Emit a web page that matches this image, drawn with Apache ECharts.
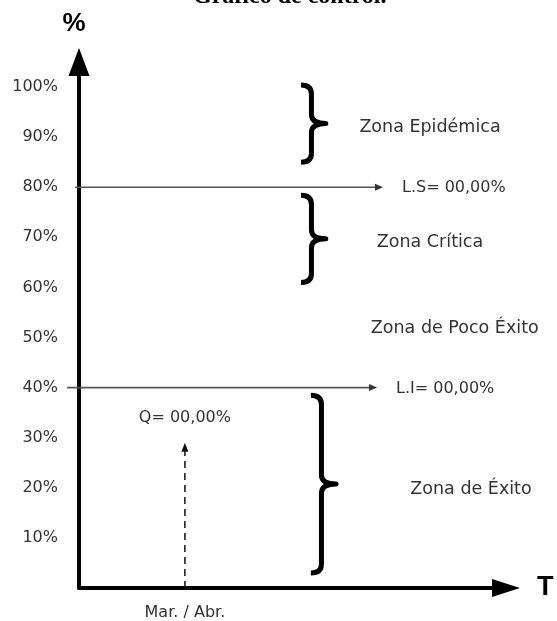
<!DOCTYPE html>
<html><head><meta charset="utf-8">
<script src="https://cdn.jsdelivr.net/npm/echarts@6/dist/echarts.min.js"></script>
<style>html,body{margin:0;padding:0;background:#fff;} #c{width:557px;height:621px;}</style>
</head><body><div id="c"></div>
<script>
// ---------- data ----------
const chartTitle = 'Gráfico de control.';
const yTickValues = [10, 20, 30, 40, 50, 60, 70, 80, 90, 100];
const periods = ['Mar. / Abr.'];
const qValues = [29];
const qLabels = ['Q= 00,00%'];
const limitNames = ['L.S= 00,00%', 'L.I= 00,00%'];
const limitValues = [80, 40];
const zoneNames = ['Zona Epidémica', 'Zona Crítica', 'Zona de Poco Éxito', 'Zona de Éxito'];
const zoneFrom = [85, 61, 44, 3];
const zoneTo = [100.4, 78.4, 60, 38.5];
const zoneHasBrace = [true, true, false, true];

// ---------- layout / style ----------
const periodX = [24.8];
const limitStartX = [-0.9, -2.8];
const limitEndX = [71.2, 69.8];
const braceLeftX = [52, 52, null, 54.3];
const braceTipX = [57.8, 57.8, null, 60.2];
const zoneLabelX = [82.2, 82.2, 88, 91.8];
const zoneLabelDy = [4, 4, 1, 5];
const FONT = 'DejaVu Sans';
const TEXT = '#333333';

const chart = echarts.init(document.getElementById('c'), null, {renderer: 'canvas'});

const option = {
  animation: false,
  backgroundColor: '#ffffff',
  title: {
    text: chartTitle, left: 193, top: -15, padding: 0,
    textStyle: {fontFamily: 'Liberation Serif', fontWeight: 'bold', fontSize: 24, color: '#000'}
  },
  grid: {left: 79, right: 51, top: 62, bottom: 33, containLabel: false, outerBoundsMode: 'none'},
  xAxis: {
    type: 'value', min: 0, max: 100,
    axisLine: {show: true, onZero: false, lineStyle: {color: '#000', width: 4},
      symbol: ['none', 'triangle'], symbolSize: [18, 28]},
    axisTick: {show: false},
    splitLine: {show: false},
    axisLabel: {
      customValues: periodX,
      formatter: function (v) { const i = periodX.indexOf(v); return i >= 0 ? periods[i] : ''; },
      margin: 17, color: TEXT, fontSize: 16, fontFamily: FONT
    },
    name: 'T', nameLocation: 'end', nameGap: 31,
    nameTextStyle: {fontSize: 27, fontWeight: 'bold', color: '#000', fontFamily: 'Liberation Sans', verticalAlign: 'middle', padding: [0, 0, 8, 0]}
  },
  yAxis: {
    type: 'value', min: 0, max: 105, interval: 10,
    axisLine: {show: true, onZero: false, lineStyle: {color: '#000', width: 4},
      symbol: ['none', 'triangle'], symbolSize: [21, 28]},
    axisTick: {show: false},
    splitLine: {show: false},
    axisLabel: {
      formatter: function (v) { return yTickValues.indexOf(v) >= 0 ? v + '%' : ''; },
      margin: 21, color: TEXT, fontSize: 16, fontFamily: FONT,
      padding: [3, 0, 0, 0]
    },
    name: '%', nameLocation: 'end', nameGap: 25,
    nameTextStyle: {fontSize: 26, fontWeight: 'bold', color: '#000', fontFamily: 'Liberation Sans', padding: [0, 10, 0, 0]}
  },
  series: [
    {
      name: 'zones', type: 'custom', clip: false,
      encode: {x: 0, y: [1, 2]},
      data: zoneNames.map((n, i) => [zoneLabelX[i], zoneFrom[i], zoneTo[i]]),
      renderItem: function (params, api) {
        const i = params.dataIndex;
        const lo = api.value(1), hi = api.value(2);
        const children = [];
        if (zoneHasBrace[i]) {
          const pT = api.coord([braceLeftX[i], hi]);
          const pB = api.coord([braceLeftX[i], lo]);
          const L = pT[0];
          const T = api.coord([braceTipX[i], hi])[0];
          const top = pT[1], bot = pB[1], m = (top + bot) / 2;
          const M = L + (T - L) * 0.42;
          const r = 9;
          const d = 'M' + L + ' ' + top +
            ' Q' + M + ' ' + top + ' ' + M + ' ' + (top + r) +
            ' L' + M + ' ' + (m - r) +
            ' Q' + M + ' ' + m + ' ' + T + ' ' + m +
            ' Q' + M + ' ' + m + ' ' + M + ' ' + (m + r) +
            ' L' + M + ' ' + (bot - r) +
            ' Q' + M + ' ' + bot + ' ' + L + ' ' + bot;
          children.push({type: 'path', shape: {pathData: d},
            style: {stroke: '#000', lineWidth: 5, fill: 'none', lineJoin: 'round', lineCap: 'butt'}});
        }
        const pt = api.coord([api.value(0), (lo + hi) / 2]);
        children.push({type: 'text', style: {text: zoneNames[i], x: pt[0], y: pt[1] + zoneLabelDy[i],
          align: 'center', verticalAlign: 'middle', fill: TEXT,
          fontSize: 17.5, fontFamily: FONT}});
        return {type: 'group', children: children};
      }
    },
    {
      name: 'limits', type: 'custom', clip: false,
      encode: {x: [0, 2], y: 1},
      data: limitValues.map((v, i) => [limitStartX[i], v, limitEndX[i]]),
      renderItem: function (params, api) {
        const i = params.dataIndex;
        const p0 = api.coord([api.value(0), api.value(1)]);
        const p1 = api.coord([api.value(2), api.value(1)]);
        return {type: 'group', children: [
          {type: 'line', shape: {x1: p0[0], y1: p0[1], x2: p1[0] - 6, y2: p1[1]},
            style: {stroke: '#555', lineWidth: 1.6}},
          {type: 'polygon', shape: {points: [[p1[0], p1[1]], [p1[0] - 8, p1[1] - 3.5], [p1[0] - 8, p1[1] + 3.5]]},
            style: {fill: '#333'}},
          {type: 'text', style: {text: limitNames[i], x: p1[0] + 19, y: p1[1] + 1,
            align: 'left', verticalAlign: 'middle', fill: TEXT, fontSize: 16, fontFamily: FONT}}
        ]};
      }
    },
    {
      name: 'Q', type: 'custom', clip: false,
      encode: {x: 0, y: 1},
      data: qValues.map((v, i) => [periodX[i], v]),
      renderItem: function (params, api) {
        const i = params.dataIndex;
        const p0 = api.coord([api.value(0), 0]);
        const p1 = api.coord([api.value(0), api.value(1)]);
        return {type: 'group', children: [
          {type: 'line', shape: {x1: p0[0], y1: p0[1], x2: p1[0], y2: p1[1] + 7},
            style: {stroke: '#111', lineWidth: 1.5, lineDash: [7, 5]}},
          {type: 'polygon', shape: {points: [[p1[0], p1[1]], [p1[0] - 3.5, p1[1] + 9], [p1[0] + 3.5, p1[1] + 9]]},
            style: {fill: '#111'}},
          {type: 'text', style: {text: qLabels[i], x: p1[0], y: p1[1] - 25,
            align: 'center', verticalAlign: 'middle', fill: TEXT, fontSize: 16, fontFamily: FONT}}
        ]};
      }
    }
  ]
};
chart.setOption(option);
</script>
</body></html>
